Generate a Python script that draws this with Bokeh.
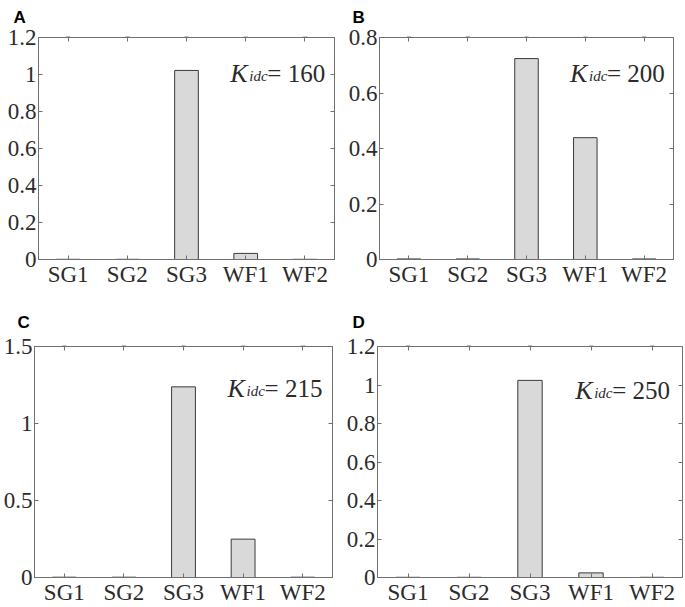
from bokeh.plotting import figure
from bokeh.models import (FactorRange, Range1d, FixedTicker, CustomJSTickFormatter,
                          LinearAxis, CategoricalAxis, Label, ColumnDataSource, Title)
from bokeh.layouts import column, row
from bokeh.embed import file_html
from bokeh.resources import INLINE

units = ["SG1", "SG2", "SG3", "WF1", "WF2"]
vals_a = [0.001, 0.001, 1.022, 0.033, 0.001]
vals_b = [0.002, 0.002, 0.724, 0.439, 0.002]
vals_c = [0.002, 0.002, 1.238, 0.249, 0.002]
vals_d = [0.001, 0.001, 1.024, 0.024, 0.001]
ymax_list = [1.2, 0.8, 1.5, 1.2]
yticks_a = [0, 0.2, 0.4, 0.6, 0.8, 1.0, 1.2]
yticks_b = [0, 0.2, 0.4, 0.6, 0.8]
yticks_c = [0, 0.5, 1.0, 1.5]
yticks_d = [0, 0.2, 0.4, 0.6, 0.8, 1.0, 1.2]
kidc_values = [160, 200, 215, 250]
panel_labels = ["A", "B", "C", "D"]

SERIF = "Liberation Serif"
TXT = "#2b2b2b"
BOX = "#707070"

fmt = CustomJSTickFormatter(code="return String(Math.round(tick*10)/10);")
blank = CustomJSTickFormatter(code="return '';")


def make(label, vals, ymax, ticks, k, w, h, bl, br, bt, bb, loff, lstand, kfrac):
    src = ColumnDataSource(dict(units=units, vals=vals))
    p = figure(x_range=FactorRange(*units, range_padding=0),
               y_range=Range1d(0, ymax),
               width=w, height=h,
               min_border_left=bl, min_border_right=br,
               min_border_top=bt, min_border_bottom=bb,
               output_backend="svg", toolbar_location=None,
               background_fill_color="white", border_fill_color="white")
    p.title = Title(text=label, align="left", offset=loff, standoff=lstand,
                    text_font="Liberation Sans", text_font_style="bold",
                    text_font_size="17px", text_color="black")
    p.grid.visible = False
    p.outline_line_color = BOX
    p.outline_line_width = 1
    p.vbar(x="units", top="vals", width=0.4, source=src,
           fill_color="#d9d9d9", line_color="#3a3a3a", line_width=1)

    for ax in (p.xaxis[0], p.yaxis[0]):
        ax.axis_line_color = BOX
        ax.major_tick_line_color = BOX
        ax.major_tick_in = 4
        ax.major_tick_out = 0
        ax.minor_tick_line_color = None
        ax.major_label_text_font = SERIF
        ax.major_label_text_font_size = "23px"
        ax.major_label_text_color = TXT
    p.yaxis[0].ticker = FixedTicker(ticks=ticks)
    p.yaxis[0].formatter = fmt
    p.yaxis[0].major_label_standoff = 2
    p.xaxis[0].major_label_standoff = 2

    ra = LinearAxis(ticker=FixedTicker(ticks=ticks), formatter=blank,
                    major_label_text_font_size="2px",
                    major_tick_in=4, major_tick_out=0, minor_tick_line_color=None,
                    axis_line_color=BOX, major_tick_line_color=BOX,
                    major_label_standoff=0)
    p.add_layout(ra, "right")
    ta = CategoricalAxis(major_label_text_font_size="2px",
                         major_label_overrides={u: "" for u in units},
                         major_tick_in=4, major_tick_out=0,
                         axis_line_color=BOX, major_tick_line_color=BOX,
                         major_label_standoff=0)
    p.add_layout(ta, "above")

    # annotation K_idc = value
    ky = ymax * kfrac
    kx = 3.24
    p.add_layout(Label(x=kx, y=ky, text="K", text_font=SERIF, text_font_style="italic",
                       text_font_size="26px", text_color=TXT, text_baseline="alphabetic"))
    p.add_layout(Label(x=kx, y=ky, x_offset=19, y_offset=-3, text="idc", text_font=SERIF,
                       text_font_style="italic", text_font_size="15px", text_color=TXT,
                       text_baseline="alphabetic"))
    p.add_layout(Label(x=kx, y=ky, x_offset=37, text="= " + str(k), text_font=SERIF,
                       text_font_size="25px", text_color=TXT, text_baseline="alphabetic"))
    return p


pa = make(panel_labels[0], vals_a, ymax_list[0], yticks_a, kidc_values[0],
          340, 300, 38, 6, 32, 41, -25, 11, 0.84)
pb = make(panel_labels[1], vals_b, ymax_list[1], yticks_b, kidc_values[1],
          345, 300, 39, 12, 32, 41, -27, 11, 0.84)
pc = make(panel_labels[2], vals_c, ymax_list[2], yticks_c, kidc_values[2],
          340, 307, 30, 8, 46, 28, -17, 19, 0.82)
pd = make(panel_labels[3], vals_d, ymax_list[3], yticks_d, kidc_values[3],
          345, 307, 37, 3, 46, 28, -25, 19, 0.81)

layout = column(row(pa, pb, spacing=0), row(pc, pd, spacing=0), spacing=0)
open("out.html", "w").write(file_html(layout, INLINE))
